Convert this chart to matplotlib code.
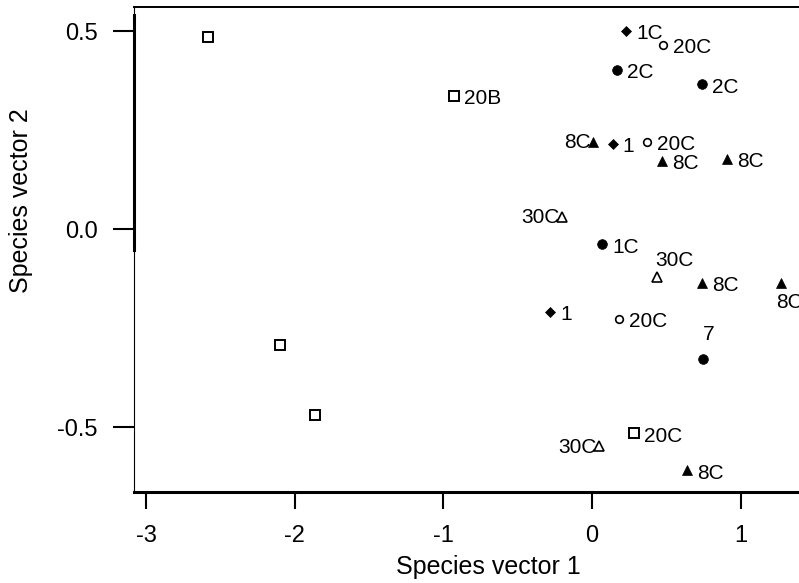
import matplotlib
matplotlib.use("Agg")
import matplotlib.pyplot as plt

plt.rcParams["font.family"] = ["Liberation Sans", "DejaVu Sans"]
plt.rcParams["axes.unicode_minus"] = False

# species ordination scores
vec1 = [-2.58, -0.93, 0.23, 0.48, 0.17, 0.74, 0.01, 0.14, 0.37, 0.47, 0.91, -0.20,
        0.07, 0.44, 0.74, 1.27, -0.28, 0.18, 0.75, -1.86, -2.10, 0.28, 0.05, 0.64]
vec2 = [0.485, 0.336, 0.501, 0.465, 0.402, 0.365, 0.220, 0.215, 0.220, 0.172, 0.178, 0.031,
        -0.038, -0.122, -0.136, -0.136, -0.209, -0.226, -0.329, -0.470, -0.293, -0.516, -0.548, -0.609]
groups = ["sq", "sq", "dia", "circ_open", "circ", "circ", "tri", "dia", "circ_open", "tri", "tri", "tri_open",
          "circ", "tri_open", "tri", "tri", "dia", "circ_open", "circ", "sq", "sq", "sq", "tri_open", "tri"]
labels = ["", "20B", "1C", "20C", "2C", "2C", "8C", "1", "20C", "8C", "8C", "30C",
          "1C", "30C", "8C", "8C", "1", "20C", "7", "", "", "20C", "30C", "8C"]

# where each label sits relative to its point
label_side = ["r", "r", "r", "r", "r", "r", "l", "r", "r", "r", "r", "l",
              "r", "above", "r", "below", "r", "r", "top", "r", "r", "r", "l", "r"]
side_style = {
    "r": dict(xytext=(10, -3), ha="left"),
    "l": dict(xytext=(-3, -1), ha="right"),
    "above": dict(xytext=(-2, 17), ha="left"),
    "below": dict(xytext=(-5, -20), ha="left"),
    "top": dict(xytext=(5, 25), ha="center"),
}
marker_style = {
    "sq": dict(marker="s", ms=7, mfc="white", mec="black", mew=1.4),
    "dia": dict(marker="D", ms=5.5, mfc="black", mec="black", mew=0.5),
    "circ": dict(marker="o", ms=7, mfc="black", mec="black", mew=0.5),
    "circ_open": dict(marker="o", ms=5.5, mfc="white", mec="black", mew=1.2),
    "tri": dict(marker="^", ms=7, mfc="black", mec="black", mew=0.5),
    "tri_open": dict(marker="^", ms=6.5, mfc="white", mec="black", mew=1.2),
}

fig = plt.figure(figsize=(7.99, 5.83), dpi=100)
ax = fig.add_axes([134 / 799, 91 / 583, 709 / 799, 485 / 583])

for g, st in marker_style.items():
    xs = [x for x, gg in zip(vec1, groups) if gg == g]
    ys = [y for y, gg in zip(vec2, groups) if gg == g]
    ax.plot(xs, ys, linestyle="none", **st)

for x, y, lab, side in zip(vec1, vec2, labels, label_side):
    if lab:
        ax.annotate(lab, (x, y), textcoords="offset pixels", va="center",
                    fontsize=15, **side_style[side])

ax.set_xlim(-3.081, 1.689)
ax.set_ylim(-0.664, 0.5606)
ax.set_xticks([-3, -2, -1, 0, 1])
ax.set_yticks([-0.5, 0.0, 0.5])
ax.set_yticklabels(["-0.5", "0.0", "0.5"])
ax.tick_params(axis="x", length=12, width=1.5, pad=12, labelsize=17)
ax.tick_params(axis="y", length=15, width=1.5, pad=11, labelsize=17)

ax.spines["right"].set_visible(False)
ax.spines["top"].set_linewidth(1.4)
ax.spines["bottom"].set_linewidth(2.2)
ax.spines["left"].set_linewidth(0.8)
# heavier stroke over the upper part of the left axis
ax.axvline(ax.get_xlim()[0], ymin=0.499, ymax=0.983, color="black", lw=2.2, clip_on=False)

ax.set_xlabel("Species vector 1", fontsize=18)
ax.set_ylabel("Species vector 2", fontsize=18)
ax.xaxis.set_label_coords(0.5, -0.13)
ax.yaxis.set_label_coords(-0.1425, 0.6)

fig.savefig("out.png", dpi=100)
